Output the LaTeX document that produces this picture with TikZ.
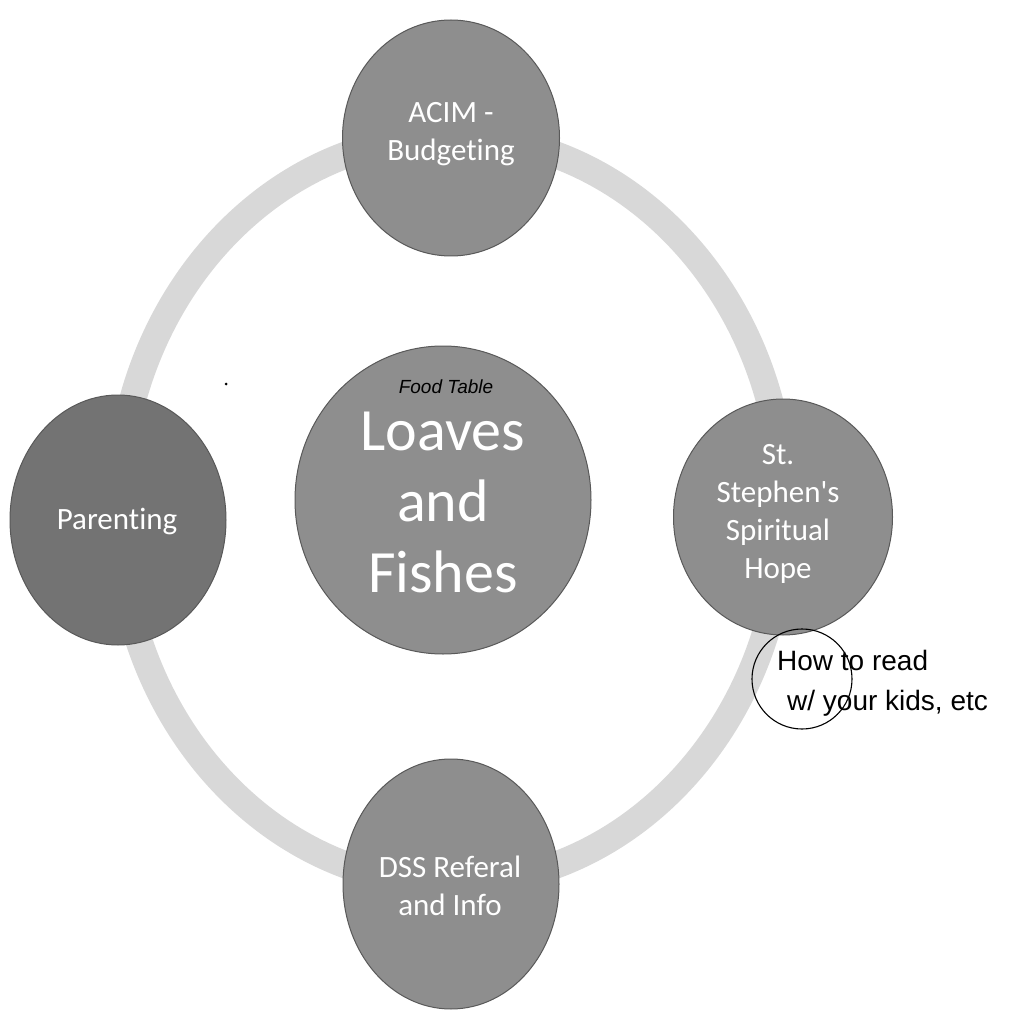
\documentclass[tikz,border=0pt]{standalone}
\usepackage{fontspec}
\setmainfont{Carlito}[Ligatures={TeXOff,NoCommon}]
\newfontfamily\handfont{Liberation Sans}
\usetikzlibrary{shapes.geometric}
\definecolor{ringgray}{HTML}{D8D8D8}
\definecolor{discgray}{HTML}{8E8E8E}
\definecolor{darkdisc}{HTML}{737373}
\begin{document}
\begin{tikzpicture}[x=1pt,y=-1pt,
  disc/.style={ellipse, draw=black!65, line width=1pt, fill=discgray, inner sep=0pt},
  disctext/.style={text=white, align=center, inner sep=0pt, font=\fontsize{31}{38}\selectfont},
  bigtext/.style={text=white, align=center, inner sep=0pt, font=\fontsize{60}{71}\selectfont},
  hand/.style={inner sep=0pt, font=\handfont\fontsize{28}{28}\selectfont},
]
\useasboundingbox (0,0) rectangle (1018,1011);
\fill[white] (0,0) rectangle (1018,1011);
% ring
\draw[ringgray, line width=27pt] (451,510) ellipse [x radius=333, y radius=374];
% discs
\node[disc, minimum width=217, minimum height=236] (acim) at (451,138) {};
\node[disc, fill=darkdisc, minimum width=216, minimum height=250] (parenting) at (118,520) {};
\node[disc, minimum width=296, minimum height=308] (loaves) at (443,500) {};
\node[disc, minimum width=219, minimum height=236] (stephen) at (783,517) {};
\node[disc, minimum width=216, minimum height=250] (dss) at (451,884) {};
% texts (anchored at the baseline of the last line)
\node[disctext, anchor=base] (acimtxt) at (451,161) {ACIM -\\Budgeting};
\node[disctext, anchor=base] (partxt) at (117,529) {Parenting};
\node[disctext, anchor=base] (sttxt) at (778,578) {St.\\Stephen's\\Spiritual\\Hope};
\node[disctext, anchor=base] (dsstxt) at (450,915) {DSS Referal\\and Info};
\node[bigtext, anchor=base] (loavestxt) at (443,592) {Loaves\\and\\Fishes};
% handwritten annotations
\node[inner sep=0pt, anchor=base, font=\handfont\itshape\fontsize{19}{19}\selectfont] (food) at (446,393) {Food Table};
\node[draw, circle, line width=1.1pt, minimum size=100, inner sep=0pt] (handcircle) at (802,679) {};
\node[hand, anchor=base west] (note1) at (777,670) {How to read};
\node[hand, anchor=base west] (note2) at (787,710) {w/ your kids, etc};
\fill (226,384) circle [radius=1.5];
\end{tikzpicture}
\end{document}
